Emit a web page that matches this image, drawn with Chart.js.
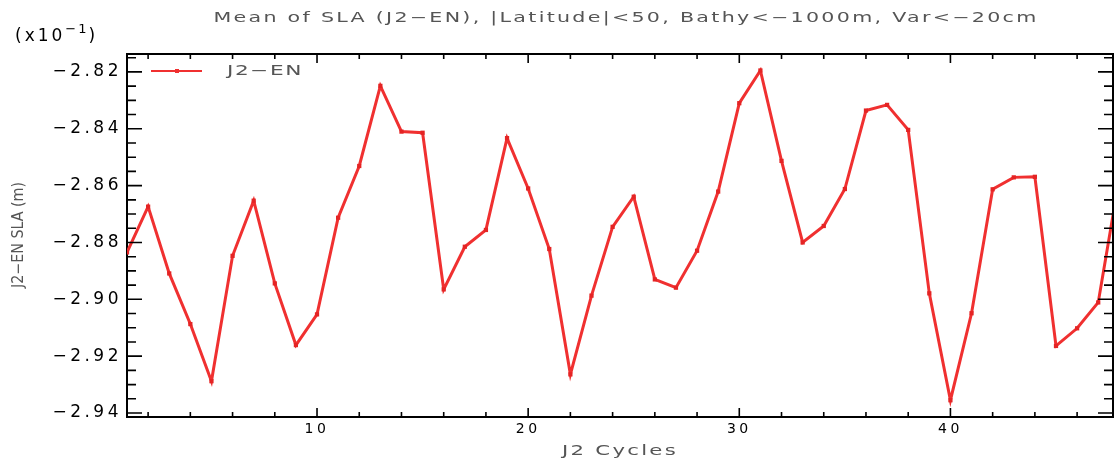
<!DOCTYPE html>
<html>
<head>
<meta charset="utf-8">
<script src="https://cdn.jsdelivr.net/npm/chart.js@4"></script>
<style>
  body { margin: 0; background: #fff; }
  canvas { display: block; }
</style>
</head>
<body>
<canvas id="myChart" width="1117" height="460"></canvas>
<script>
const ctx = document.getElementById("myChart");

// J2 cycle numbers and mean SLA (J2-EN), in units of 1e-1 m
const cycles = [1, 2, 3, 4, 5, 6, 7, 8, 9, 10, 11, 12, 13, 14, 15, 16, 17, 18, 19, 20, 21, 22, 23, 24,
  25, 26, 27, 28, 29, 30, 31, 32, 33, 34, 35, 36, 37, 38, 39, 40, 41, 42, 43, 44, 45, 46, 47, 48];
const sla_j2_en = [-2.8835, -2.8674, -2.8909, -2.9087, -2.9288, -2.8847, -2.8653, -2.8944, -2.9161, -2.9053,
  -2.8713, -2.8531, -2.8249, -2.8410, -2.8414, -2.8965, -2.8815, -2.8756, -2.8433, -2.8610,
  -2.8823, -2.9264, -2.8987, -2.8745, -2.8639, -2.8930, -2.8959, -2.8829, -2.8621, -2.8310,
  -2.8195, -2.8513, -2.8800, -2.8742, -2.8612, -2.8336, -2.8316, -2.8404, -2.8979, -2.9355,
  -2.9049, -2.8613, -2.8571, -2.8569, -2.9164, -2.9102, -2.9011, -2.8573];

const y_ticks = [-2.82, -2.84, -2.86, -2.88, -2.90, -2.92, -2.94];
const x_ticks = [10, 20, 30, 40];
const y_minor_step = 0.005;
const x_minor_step = 2;

const red = "rgb(240, 48, 48)";
const font = "'DejaVu Sans'";

function minus(s) {
  return s.replace(/-/g, "\u2212");
}

// draw text stretched sideways to a given width (the IDL font is wide)
function wide_text(c, text, x, y, width, align) {
  const w = c.measureText(text).width;
  const k = width / w;
  c.save();
  c.textAlign = "left";
  let x0 = x;
  if (align === "center") x0 = x - width / 2;
  c.translate(x0, y);
  c.scale(k, 1);
  c.fillText(text, 0, 0);
  c.restore();
}

// text, frame and minor ticks in the IDL style
const idl_frame = {
  id: "idl_frame",
  beforeDraw(chart) {
    chart.ctx.letterSpacing = "3.5px";
  },
  afterDatasetsDraw(chart) {
    const c = chart.ctx;
    const a = chart.chartArea;
    const xs = chart.scales.x;
    const ys = chart.scales.y;
    c.save();
    c.letterSpacing = "0px";
    c.strokeStyle = "#000";
    c.lineWidth = 2;
    c.beginPath();
    c.moveTo(a.left, a.top);
    c.lineTo(a.right, a.top);
    c.lineTo(a.right, a.bottom);
    c.stroke();

    c.lineWidth = 1.6;
    c.beginPath();
    for (let v = Math.ceil(xs.min / x_minor_step) * x_minor_step; v <= xs.max; v += x_minor_step) {
      const px = xs.getPixelForValue(v);
      const len = v % 10 === 0 ? 9 : 5;
      c.moveTo(px, a.bottom);
      c.lineTo(px, a.bottom - len);
      c.moveTo(px, a.top);
      c.lineTo(px, a.top + len);
    }
    const n = Math.round((ys.max - ys.min) / y_minor_step) + 2;
    const start = Math.ceil(ys.min / y_minor_step) * y_minor_step;
    for (let i = 0; i < n; i++) {
      const v = start + i * y_minor_step;
      if (v > ys.max) break;
      const py = ys.getPixelForValue(v);
      const major = y_ticks.some((t) => Math.abs(t - v) < 1e-6);
      const len = major ? 15 : 9;
      c.moveTo(a.left, py);
      c.lineTo(a.left + len, py);
      c.moveTo(a.right, py);
      c.lineTo(a.right - len, py);
    }
    c.stroke();

    // legend
    const ds = chart.data.datasets[0];
    c.strokeStyle = ds.borderColor;
    c.lineWidth = 2;
    c.beginPath();
    c.moveTo(151, 71);
    c.lineTo(202, 71);
    c.stroke();
    c.fillStyle = ds.borderColor;
    c.fillRect(175, 69, 4, 4);
    c.fillStyle = "#555";
    c.font = "14px " + font;
    c.letterSpacing = "1px";
    c.textBaseline = "middle";
    wide_text(c, minus(ds.label), 227, 71, 76, "left");
    c.restore();
  },
  afterDraw(chart) {
    const c = chart.ctx;
    const a = chart.chartArea;
    c.save();
    c.textBaseline = "middle";
    c.fillStyle = "#555";

    // title
    c.font = "13.5px " + font;
    c.letterSpacing = "1.5px";
    wide_text(c, minus("Mean of SLA (J2-EN), |Latitude|<50, Bathy<-1000m, Var<-20cm"), 626, 18, 825, "center");

    // x axis title
    c.font = "14px " + font;
    c.letterSpacing = "1.5px";
    wide_text(c, "J2 Cycles", (a.left + a.right) / 2, 451, 116, "center");

    // y axis title
    c.save();
    c.translate(19, 235);
    c.rotate(-Math.PI / 2);
    c.font = "15px " + font;
    c.letterSpacing = "0px";
    wide_text(c, minus("J2-EN SLA (m)"), 0, 0, 106, "center");
    c.restore();

    // scale factor
    c.fillStyle = "#000";
    c.font = "17px " + font;
    c.letterSpacing = "3px";
    c.textAlign = "left";
    c.fillText("(x10", 15, 37);
    const w = c.measureText("(x10").width;
    c.font = "13px " + font;
    c.letterSpacing = "2px";
    c.fillText("\u22121", 15 + w, 30);
    const w2 = c.measureText("\u22121").width;
    c.font = "17px " + font;
    c.letterSpacing = "3px";
    c.fillText(")", 15 + w + w2, 37);
    c.restore();
    c.letterSpacing = "0px";
  },
};

function load_chart() {
  const points = cycles.map((x, i) => ({ x: x, y: sla_j2_en[i] }));

  new Chart(ctx, {
    type: "line",
    data: {
      datasets: [
        {
          label: "J2-EN",
          data: points,
          borderColor: red,
          backgroundColor: red,
          borderWidth: 3,
          pointStyle: "rect",
          pointRadius: 3,
          pointBackgroundColor: "rgb(228, 36, 36)",
          pointBorderWidth: 0,
          tension: 0,
        },
      ],
    },
    options: {
      responsive: false,
      animation: false,
      layout: { padding: { top: 54, right: 1, left: 0, bottom: 0 } },
      plugins: {
        legend: { display: false },
        tooltip: { enabled: false },
      },
      scales: {
        x: {
          type: "linear",
          min: 1,
          max: 47.7,
          afterBuildTicks: (s) => {
            s.ticks = x_ticks.map((v) => ({ value: v }));
          },
          afterFit: (s) => {
            s.height = 43;
          },
          ticks: {
            autoSkip: false,
            maxRotation: 0,
            padding: 4,
            color: "#000",
            font: { family: "DejaVu Sans", size: 14 },
          },
          grid: { drawOnChartArea: false, drawTicks: false },
          border: { display: true, color: "#000", width: 2 },
        },
        y: {
          min: -2.9414,
          max: -2.8137,
          afterBuildTicks: (s) => {
            s.ticks = y_ticks.map((v) => ({ value: v }));
          },
          afterFit: (s) => {
            s.width = 127;
          },
          ticks: {
            padding: 5,
            color: "#000",
            font: { family: "DejaVu Sans", size: 17 },
            callback: (v) => minus(Number(v).toFixed(2)),
          },
          grid: { drawOnChartArea: false, drawTicks: false },
          border: { display: true, color: "#000", width: 2 },
        },
      },
    },
    plugins: [idl_frame],
  });
}
load_chart();
</script>
</body>
</html>
